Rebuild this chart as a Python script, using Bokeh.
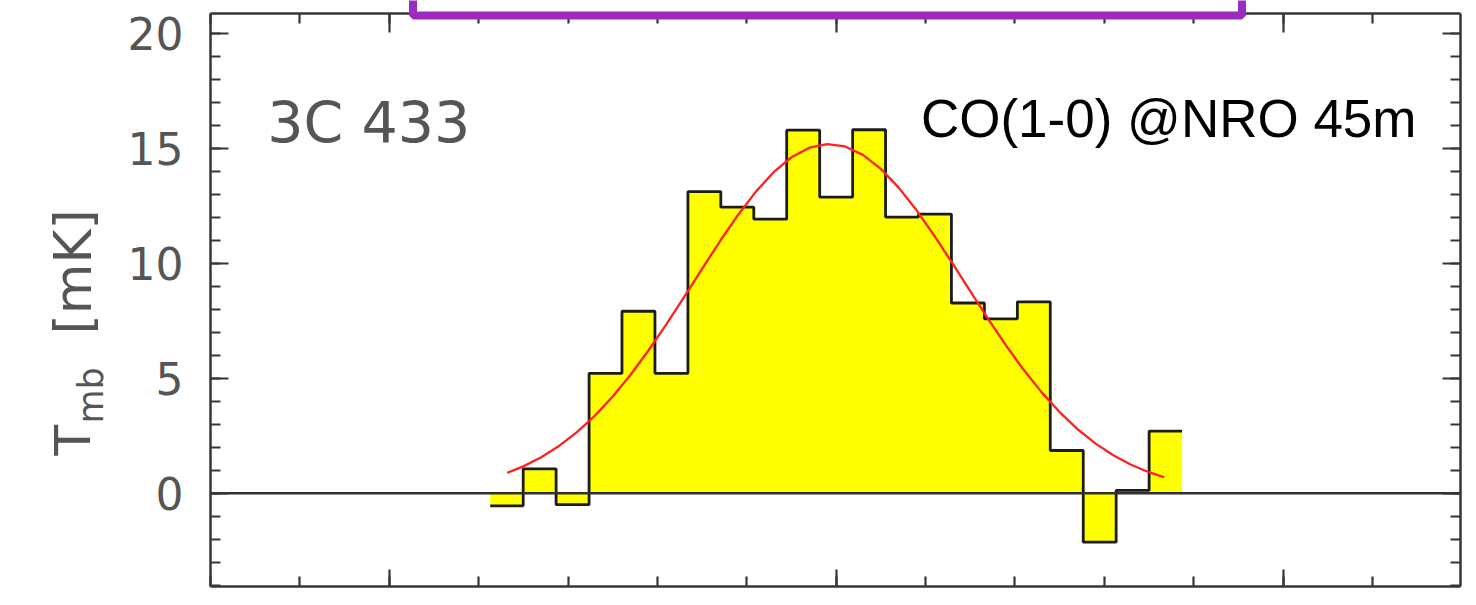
from bokeh.plotting import figure
from bokeh.models import (Range1d, LinearAxis, SingleIntervalTicker,
                          BoxAnnotation, Label, CustomJSTickFormatter)
from bokeh.core.properties import value
from bokeh.embed import file_html
from bokeh.resources import INLINE

# ---- data ----
velocity = [-368.6, -331.7, -294.9, -258.0, -221.2, -184.3, -147.4, -110.6,
            -73.7, -36.9, 0.0, 36.9, 73.7, 110.6, 147.4, 184.3, 221.2,
            258.0, 294.9, 331.7, 368.6]
tmb = [-0.55, 1.06, -0.50, 5.22, 7.92, 5.22, 13.13, 12.45, 11.93, 15.80,
       12.89, 15.82, 12.02, 12.15, 8.28, 7.59, 8.33, 1.86, -2.13, 0.12, 2.70]
channel_width = 36.86

fit_v = [-368, -350, -330, -310, -290, -270, -250, -230, -210, -190, -170,
         -150, -130, -110, -90, -70, -50, -30, -10, 10, 30, 50, 70, 90, 110,
         130, 150, 170, 190, 210, 230, 250, 270, 290, 310, 330, 350, 367]
fit_t = [0.886, 1.169, 1.564, 2.057, 2.658, 3.373, 4.208, 5.158, 6.212,
         7.352, 8.549, 9.768, 10.967, 12.100, 13.116, 13.971, 14.623, 15.040,
         15.199, 15.092, 14.726, 14.119, 13.302, 12.314, 11.201, 10.011,
         8.792, 7.588, 6.434, 5.361, 4.389, 3.531, 2.791, 2.169, 1.655,
         1.241, 0.915, 0.696]

x_lo, x_hi = -700, 698          # velocity extent of the plotted box
y_lo, y_hi = -4.06, 20.88       # Tmb extent of the plotted box
y_ticks_interval = 5
x_ticks_interval = 500
source_name = "3C 433"
line_name = "CO(1-0) @NRO 45m"

# ---- layout (pixels) ----
W, H = 1468, 598
FL, FR, FT, FB = 210, 1459.5, 13, 586     # box edges on the canvas

sx = (FR - FL) / (x_hi - x_lo)
sy = (FB - FT) / (y_hi - y_lo)
xr = Range1d(x_lo - FL / sx, x_hi + (W - FR) / sx)
yr = Range1d(y_lo - (H - FB) / sy, y_hi + FT / sy)


def px2x(px):
    return x_lo + (px - FL) / sx


def px2y(py):
    return y_hi - (py - FT) / sy


p = figure(width=W, height=H, x_range=xr, y_range=yr,
           output_backend="svg", toolbar_location=None,
           min_border_left=0, min_border_right=0,
           min_border_top=0, min_border_bottom=0)
p.xgrid.visible = False
p.ygrid.visible = False
p.outline_line_color = None
p.background_fill_color = "white"
p.border_fill_color = "white"

AXC = "#363636"
blank = CustomJSTickFormatter(code="return ''")


def style_axis(ax, show_labels, major_in, minor_in):
    ax.axis_line_color = AXC
    ax.axis_line_width = 2.5
    ax.major_tick_line_color = AXC
    ax.minor_tick_line_color = AXC
    ax.major_tick_line_width = 2.2
    ax.minor_tick_line_width = 2.2
    ax.major_tick_in = major_in
    ax.major_tick_out = 0
    ax.minor_tick_in = minor_in
    ax.minor_tick_out = 0
    if show_labels:
        ax.major_label_text_font = "DejaVu Sans"
        ax.major_label_text_font_size = "44px"
        ax.major_label_text_color = "#555555"
        ax.major_label_standoff = 27
    else:
        ax.formatter = blank
        ax.major_label_text_font_size = "1px"
        ax.major_label_standoff = 0


xa = p.xaxis[0]
ya = p.yaxis[0]
xa.ticker = SingleIntervalTicker(interval=x_ticks_interval, num_minor_ticks=5)
ya.ticker = SingleIntervalTicker(interval=y_ticks_interval, num_minor_ticks=5)
xa.fixed_location = y_lo
xa.bounds = (x_lo, x_hi)
ya.fixed_location = x_lo
ya.bounds = (y_lo, y_hi)
style_axis(xa, False, 17, 10)
style_axis(ya, True, 18, 10)

top_ax = LinearAxis(ticker=SingleIntervalTicker(interval=x_ticks_interval, num_minor_ticks=5),
                    fixed_location=y_hi, bounds=(x_lo, x_hi))
style_axis(top_ax, False, 19, 10)
p.add_layout(top_ax, "above")
right_ax = LinearAxis(ticker=SingleIntervalTicker(interval=y_ticks_interval, num_minor_ticks=5),
                      fixed_location=x_hi, bounds=(y_lo, y_hi))
style_axis(right_ax, False, 18, 10)
p.add_layout(right_ax, "right")

# ---- histogram ----
left = [v - channel_width / 2 for v in velocity]
right = [v + channel_width / 2 for v in velocity]
step_x = left + [right[-1]]
step_y = tmb + [tmb[-1]]
p.varea_step(x=step_x, y1=0, y2=step_y, step_mode="after",
             fill_color="#ffff00")
p.step(x=step_x, y=step_y, mode="after", line_color="#1c1c1c",
       line_width=2.8)

# zero level
p.line(x=[x_lo, x_hi], y=[0, 0], line_color="#303030", line_width=2.5)

# gaussian fit
p.line(fit_v, fit_t, line_color="#ff2020", line_width=2.3)

# ---- texts ----
p.text(x=[px2x(266.7)], y=[px2y(122.7)], text=[source_name],
       text_font=value("DejaVu Sans"),
       text_font_size="57px", text_color="#555555",
       text_align="left", text_baseline="alphabetic")
p.text(x=[px2x(1416)], y=[px2y(117.6)], text=[line_name],
       text_font=value("Liberation Sans"),
       text_font_size="53px", text_color="#000000",
       text_align="right", text_baseline="alphabetic")

# y axis title  T_mb [mK]
for txt, lx, ly, fs in [("T", 72, 455, "50px"), ("mb", 90, 423, "35px"),
                        ("[mK]", 72, 334, "52px")]:
    p.add_layout(Label(x=px2x(lx), y=px2y(ly),
                       text=txt, angle=90, angle_units="deg",
                       text_font="DejaVu Sans", text_font_size=fs,
                       text_color="#555555", text_align="left",
                       text_baseline="alphabetic"))

# purple frame overlapping the top
p.add_layout(BoxAnnotation(left=px2x(412.5), right=px2x(1241.5),
                           bottom=px2y(15), top=px2y(-30),
                           fill_color="white", fill_alpha=1.0,
                           line_color="#9c2cc0", line_alpha=1.0,
                           line_width=8, level="overlay"))

open("out.html", "w").write(file_html(p, INLINE))
